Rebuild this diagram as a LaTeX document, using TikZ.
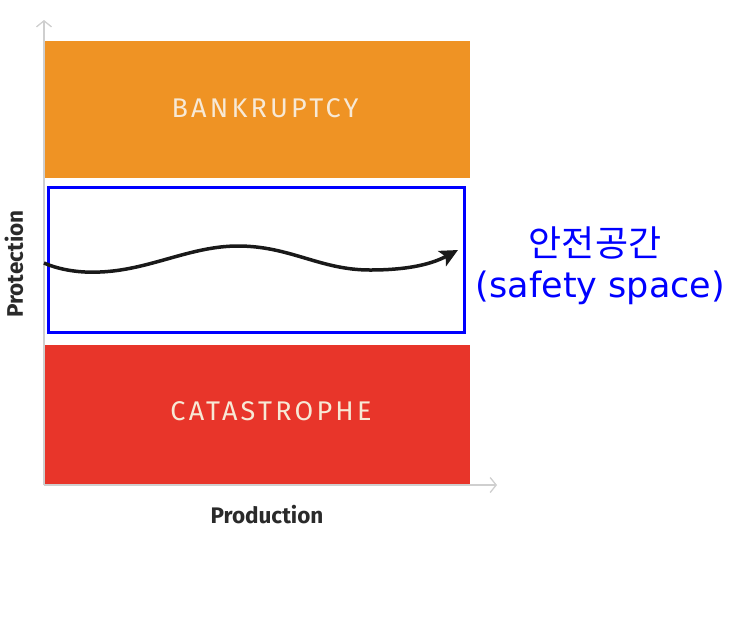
\documentclass[tikz,border=0pt]{standalone}
\usepackage{fontspec}
\setmainfont{Fira Sans}
\newfontfamily\krfont{Noto Sans CJK KR}
\newfontfamily\latfont{DejaVu Sans}
\newfontfamily\boxfont[LetterSpace=12]{Fira Sans}
\usetikzlibrary{arrows.meta}
\definecolor{bankorange}{HTML}{EF9324}
\definecolor{catred}{HTML}{E8352A}
\definecolor{boxtext}{HTML}{F7E9D6}
\definecolor{axisgray}{HTML}{CFCFCF}
\definecolor{labeldark}{HTML}{2A2A2A}
\definecolor{safeblue}{HTML}{0000FF}
\begin{document}
\begin{tikzpicture}[x=1pt,y=-1pt,
  band/.style={draw=none,inner sep=0pt},
  bandtext/.style={inner sep=0pt,text=boxtext,font=\boxfont\fontsize{27}{30}\selectfont},
  axisline/.style={draw=axisgray,line width=1.3pt,-{Straight Barb[length=6pt,width=15pt,line width=1.3pt]}},
  axislabel/.style={text=labeldark,font=\bfseries\fontsize{22.5}{26}\selectfont,inner sep=0pt},
  safelabel/.style={text=safeblue,inner sep=0pt}]
\useasboundingbox (0,0) rectangle (743,641);
\fill[white] (0,0) rectangle (743,641);
% bands
\node[band,fill=bankorange,minimum width=425pt,minimum height=137pt] (bank) at (257.5,109.5) {};
\node[band,fill=catred,minimum width=425pt,minimum height=139pt] (cat) at (257.5,414.5) {};
\node[bandtext] (banktext) at (265,108) {BANKRUPTCY};
\node[bandtext] (cattext) at (271,411) {CATASTROPHE};
\node[draw=safeblue,line width=3pt,minimum width=416pt,minimum height=145pt,inner sep=0pt] (safe) at (256,259.5) {};
% axes
\coordinate (origin) at (44,485);
\coordinate (ytop) at (44,20);
\coordinate (xend) at (497,485);
\draw[axisline] (origin) -- (ytop);
\draw[axisline] (origin) -- (xend);
% labels
\node[axislabel,rotate=90] (prot) at (14,264) {Protection};
\node[axislabel] (prod) at (267,515) {Production};
\node[safelabel,font=\krfont\fontsize{36}{42}\selectfont] (kr) at (595,243) {안전공간};
\node[safelabel,font=\latfont\fontsize{35}{40}\selectfont] (en) at (600.5,288) {(safety space)};
% path
\coordinate (cstart) at (44,263);
\coordinate (cend) at (458,250);
\draw[line width=3.5pt,labeldark!60!black,-{Stealth[length=18pt,width=17pt,inset=4pt]}]
  (cstart) .. controls (60,270) and (80,273) .. (100,272)
  .. controls (150,270) and (190,246) .. (238,246)
  .. controls (290,246) and (320,270) .. (370,270)
  .. controls (405,270) and (430,265) .. (cend);
\end{tikzpicture}
\end{document}
